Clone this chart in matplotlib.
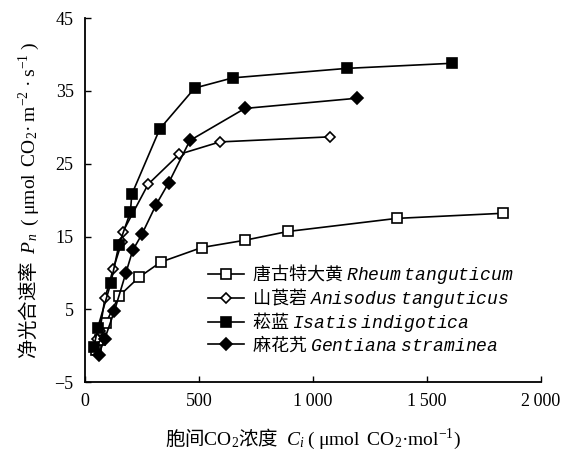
import numpy as np
import matplotlib
matplotlib.use('Agg')
import matplotlib.pyplot as plt

# values
rheum_x = [48, 66, 92, 149, 237, 333, 513, 702, 890, 1368, 1833]
rheum_y = [-0.6, 0.8, 3.1, 6.8, 9.4, 11.5, 13.5, 14.5, 15.7, 17.5, 18.2]

aniso_x = [52, 66, 88, 124, 162, 166, 278, 414, 592, 1075]
aniso_y = [1.0, 2.1, 6.5, 10.5, 14.2, 15.6, 22.2, 26.3, 28.0, 28.7]

isatis_x = [40, 57, 114, 149, 200, 206, 329, 482, 649, 1149, 1610]
isatis_y = [-0.2, 2.5, 8.6, 13.8, 18.4, 20.8, 29.8, 35.4, 36.8, 38.1, 38.8]

gent_x = [61, 88, 130, 180, 210, 250, 313, 368, 461, 702, 1193]
gent_y = [-1.2, 1.0, 4.8, 10.0, 13.1, 15.3, 19.4, 22.4, 28.2, 32.6, 34.0]

labels = [r'唐古特大黄 $\mathit{Rheum\ tanguticum}$',
          r'山莨菪 $\mathit{Anisodus\ tanguticus}$',
          r'菘蓝 $\mathit{Isatis\ indigotica}$',
          r'麻花艽 $\mathit{Gentiana\ straminea}$']

xticks = [0, 500, 1000, 1500, 2000]
xticklabels = ['0', '500', '1\u2009000', '1\u2009500', '2\u2009000']
yticks = [-5, 5, 15, 25, 35, 45]

plt.rcParams['font.family'] = ['Liberation Serif', 'Noto Sans CJK SC', 'DejaVu Sans']
# mathtext: sf = upright serif, it = mono italic (species names), cal = serif italic
plt.rcParams['mathtext.fontset'] = 'custom'
plt.rcParams['mathtext.rm'] = 'Liberation Serif'
plt.rcParams['mathtext.sf'] = 'Liberation Serif'
plt.rcParams['mathtext.it'] = 'Liberation Mono:italic'
plt.rcParams['mathtext.cal'] = 'Liberation Serif:italic'
cjk = 'Noto Sans CJK SC'

fig = plt.figure(figsize=(5.73, 4.65), dpi=100)
ax = fig.add_axes([0.148, 0.178, 0.796, 0.783])

kw = dict(color='black', lw=1.2, markeredgewidth=1.2)
ax.plot(rheum_x, rheum_y, marker='s', markersize=7, markerfacecolor='white', label=labels[0], **kw)
ax.plot(aniso_x, aniso_y, marker='D', markersize=5.5, markerfacecolor='white', label=labels[1], **kw)
ax.plot(isatis_x, isatis_y, marker='s', markersize=7, markerfacecolor='black', label=labels[2], **kw)
ax.plot(gent_x, gent_y, marker='D', markersize=6, markerfacecolor='black', label=labels[3], **kw)

ax.set_xlim(0, 2000)
ax.set_ylim(-5, 45)
ax.set_xticks(xticks)
ax.set_xticklabels(xticklabels)
ax.set_yticks(yticks)
ax.tick_params(direction='in', length=4, width=1, labelsize=13, pad=8)
ax.spines['top'].set_visible(False)
ax.spines['right'].set_visible(False)
ax.spines['left'].set_linewidth(1.3)
ax.spines['bottom'].set_linewidth(1.3)

ax.set_xlabel(r'胞间$\mathsf{CO_2}$浓度  $\mathcal{C_i}$ $\mathsf{(\ μmol\ \ CO_2·mol^{-1})}$',
              fontsize=14, labelpad=12, fontfamily=cjk)
ax.set_ylabel(r'净光合速率  $\mathcal{P_n}$  $\mathsf{(\ μmol\ \ CO_2·\ m^{-2}\ ·\ s^{-1}\ )}$',
              fontsize=14, labelpad=10, fontfamily=cjk)

ax.legend(loc='upper left', bbox_to_anchor=(0.255, 0.35), frameon=False,
          prop={'family': cjk, 'size': 13},
          handlelength=2.0, handletextpad=0.4, labelspacing=0.0, borderaxespad=0)

fig.savefig('out.png', dpi=100)
